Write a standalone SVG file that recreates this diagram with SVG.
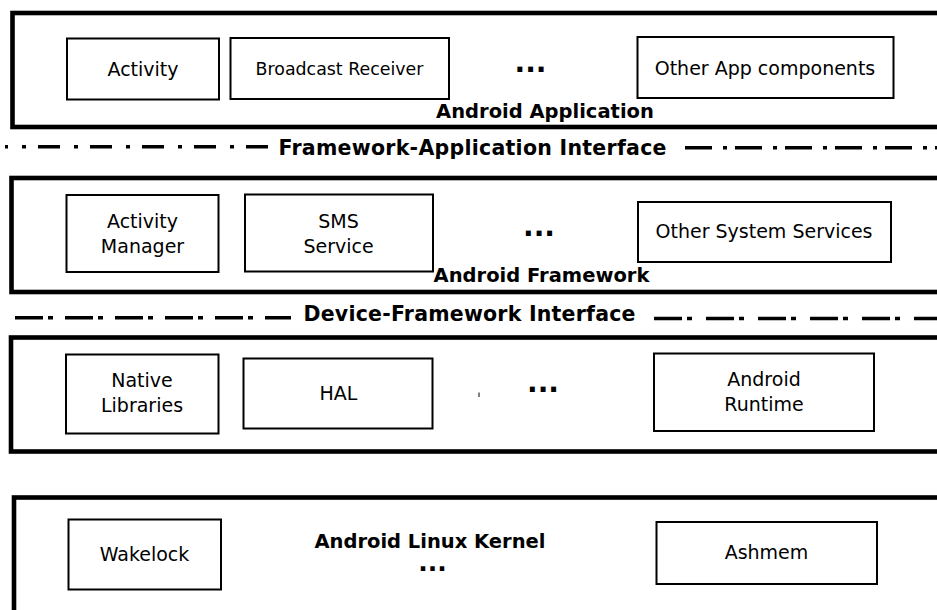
<svg xmlns="http://www.w3.org/2000/svg" width="937" height="610" viewBox="0 0 937 610">
<style>
  .layer { fill: #ffffff; stroke: #000000; stroke-width: 4.6; }
  .comp { fill: #ffffff; stroke: #000000; stroke-width: 2; }
  .t { font-family: "DejaVu Sans", "Liberation Sans", sans-serif; font-size: 19px; fill: #000000; text-anchor: middle; }
  .h { font-family: "DejaVu Sans", "Liberation Sans", sans-serif; font-size: 19.5px; font-weight: bold; fill: #000000; text-anchor: middle; }
  .ih { font-family: "DejaVu Sans", "Liberation Sans", sans-serif; font-size: 20.5px; font-weight: bold; fill: #000000; text-anchor: middle; }
  .dots { font-family: "DejaVu Sans", "Liberation Sans", sans-serif; font-size: 28px; font-weight: bold; fill: #000000; text-anchor: middle; }
  .iface { stroke: #000000; stroke-width: 3.6; fill: none; }
</style>
<rect width="937" height="610" fill="#ffffff"/>

<g id="android-application">
  <rect class="layer" x="12.5" y="13" width="940" height="114"/>
  <g id="activity"><rect class="comp" x="67" y="38.5" width="152" height="61"/><text class="t" x="143" y="76">Activity</text></g>
  <g id="broadcast-receiver"><rect class="comp" x="230.5" y="38" width="218.5" height="61"/><text class="t" x="339.5" y="75" style="font-size:17.4px">Broadcast Receiver</text></g>
  <text class="dots" x="530.5" y="72">...</text>
  <g id="other-app-components"><rect class="comp" x="637.5" y="37" width="256" height="61"/><text class="t" x="765" y="74.5">Other App components</text></g>
  <text class="h" x="545" y="117.5">Android Application</text>
</g>

<g id="android-framework">
  <rect class="layer" x="11.5" y="178" width="940" height="114"/>
  <g id="activity-manager"><rect class="comp" x="66.5" y="195" width="152" height="77"/><text class="t" x="142.5" y="228">Activity</text><text class="t" x="142.5" y="252.5">Manager</text></g>
  <g id="sms-service"><rect class="comp" x="245" y="194.5" width="188" height="77"/><text class="t" x="338.5" y="228">SMS</text><text class="t" x="338.5" y="252.5">Service</text></g>
  <text class="dots" x="539" y="236">...</text>
  <g id="other-system-services"><rect class="comp" x="638" y="202" width="253" height="60"/><text class="t" x="764" y="238">Other System Services</text></g>
  <text class="h" x="541.5" y="282">Android Framework</text>
</g>

<g id="native-layer">
  <rect class="layer" x="11" y="337.5" width="940" height="114"/>
  <g id="native-libraries"><rect class="comp" x="66" y="354.5" width="152.5" height="79"/><text class="t" x="142" y="387">Native</text><text class="t" x="142" y="412">Libraries</text></g>
  <g id="hal"><rect class="comp" x="243.5" y="358.5" width="189" height="70"/><text class="t" x="338.5" y="399.5">HAL</text></g>
  <line x1="479" y1="392.5" x2="479" y2="397" stroke="#000000" stroke-width="1"/>
  <text class="dots" x="543" y="391.5">...</text>
  <g id="android-runtime"><rect class="comp" x="654" y="353.5" width="220" height="77.5"/><text class="t" x="764" y="386">Android</text><text class="t" x="764" y="410.5">Runtime</text></g>
</g>

<g id="android-linux-kernel">
  <rect class="layer" x="14" y="497.5" width="940" height="130"/>
  <g id="wakelock"><rect class="comp" x="68.5" y="519.5" width="152.5" height="70"/><text class="t" x="144.5" y="561">Wakelock</text></g>
  <text class="h" x="430" y="548">Android Linux Kernel</text>
  <text class="dots" x="432.5" y="571" style="font-size:25px">...</text>
  <g id="ashmem"><rect class="comp" x="656.5" y="522" width="220.5" height="62"/><text class="t" x="766.5" y="559">Ashmem</text></g>
</g>

<g id="interfaces">
  <path class="iface" d="M5 146.7 H268" stroke-dasharray="22 14 4 12" stroke-dashoffset="19"/>
  <path class="iface" d="M685 147.8 H937" stroke-dasharray="27 11 4 8"/>
  <text class="ih" x="472.5" y="154.5" textLength="388">Framework-Application Interface</text>
  <path class="iface" d="M15 317.7 H291" stroke-dasharray="28 5 5 12"/>
  <path class="iface" d="M654 318.5 H937" stroke-dasharray="28 5 5 14"/>
  <text class="ih" x="469.5" y="320.5" textLength="332">Device-Framework Interface</text>
</g>
</svg>
